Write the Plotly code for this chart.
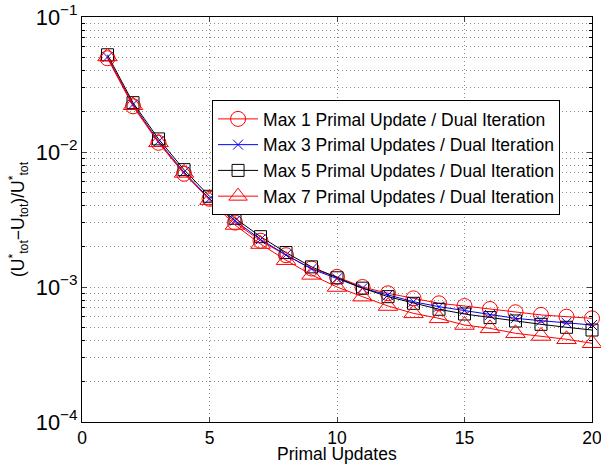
import plotly.graph_objects as go

x_updates = list(range(1, 21))

max1 = [0.0495, 0.0218, 0.0117, 0.0069, 0.0045, 0.00300, 0.00220, 0.00172, 0.00137, 0.00119,
        0.00100, 0.000898, 0.000824, 0.000757, 0.000723, 0.000687, 0.000650, 0.000621, 0.000603, 0.000586]
max3 = [0.0505, 0.0225, 0.0120, 0.0071, 0.0045, 0.00310, 0.00225, 0.00173, 0.00136, 0.00116,
        0.00098, 0.000873, 0.000778, 0.000715, 0.000668, 0.000621, 0.000586, 0.000563, 0.000544, 0.000523]
max5 = [0.0525, 0.0232, 0.0125, 0.0074, 0.0047, 0.00323, 0.00236, 0.00180, 0.00141, 0.00117,
        0.00098, 0.000848, 0.000757, 0.000684, 0.000631, 0.000593, 0.000560, 0.000529, 0.000503, 0.000480]
max7 = [0.0510, 0.0222, 0.0118, 0.0070, 0.0044, 0.00288, 0.00208, 0.00158, 0.00123, 0.00100,
        0.000848, 0.000723, 0.000638, 0.000586, 0.000523, 0.000494, 0.000454, 0.000434, 0.000410, 0.000383]

names = ["Max 1 Primal Update / Dual Iteration",
         "Max 3 Primal Updates / Dual Iteration",
         "Max 5 Primal Updates / Dual Iteration",
         "Max 7 Primal Updates / Dual Iteration"]

x_title = "Primal Updates"
y_title = "(U<sup>*</sup><sub>tot</sub>−U<sub>tot</sub>)/U<sup>*</sup><sub>tot</sub>"

styles = [
    dict(color="#ff0000", symbol="circle-open", size=15),
    dict(color="#0000ff", symbol="x-thin-open", size=10),
    dict(color="#000000", symbol="square-open", size=12),
    dict(color="#ff0000", symbol="triangle-up-open", size=17),
]

fig = go.Figure()
for name, ys, st in zip(names, [max1, max3, max5, max7], styles):
    fig.add_trace(go.Scatter(
        x=x_updates, y=ys, name=name, mode="lines+markers",
        line=dict(color=st["color"], width=1),
        marker=dict(symbol=st["symbol"], size=st["size"], color=st["color"],
                    line=dict(color=st["color"], width=1)),
        cliponaxis=False,
    ))

font_family = "Liberation Sans, Arial, sans-serif"
FS = 17.5
LFS = 17.5
grid_col = "#8c8c8c"
grid_dash = "1px,3px"

fig.update_layout(
    width=601, height=465,
    margin=dict(l=82, r=9, t=17, b=43),
    paper_bgcolor="white", plot_bgcolor="white",
    font=dict(family=font_family, size=FS, color="black"),
    showlegend=True,
    legend=dict(x=0.255, y=0.795, xanchor="left", yanchor="top",
                bgcolor="white", bordercolor="black", borderwidth=1,
                font=dict(size=LFS), tracegroupgap=0, itemwidth=40),
    xaxis=dict(
        range=[0, 20], tickvals=[0, 5, 10, 15, 20], ticks="inside", ticklen=5,
        showline=True, linecolor="black", linewidth=1, mirror="ticks",
        showgrid=True, gridcolor=grid_col, griddash=grid_dash, gridwidth=1,
        zeroline=False, tickfont=dict(size=FS), automargin=False,
        ticklabeloverflow="allow",
    ),
    yaxis=dict(
        type="log", range=[-4, -1], dtick=1, exponentformat="power",
        ticks="inside", ticklen=5, automargin=False, ticklabeloverflow="allow",
        showline=True, linecolor="black", linewidth=1, mirror="ticks",
        showgrid=True, gridcolor=grid_col, griddash=grid_dash, gridwidth=1,
        zeroline=False, tickfont=dict(size=FS),
        minor=dict(ticks="inside", ticklen=3, showgrid=True, gridcolor=grid_col,
                   griddash=grid_dash, gridwidth=1, tickcolor="black"),
        title=dict(text=y_title, font=dict(size=FS), standoff=6),
    ),
    annotations=[dict(text=x_title, xref="paper", yref="paper", x=0.5, y=-0.079,
                      xanchor="center", yanchor="middle", showarrow=False,
                      font=dict(size=FS))],
)

fig.write_html("out.html")
